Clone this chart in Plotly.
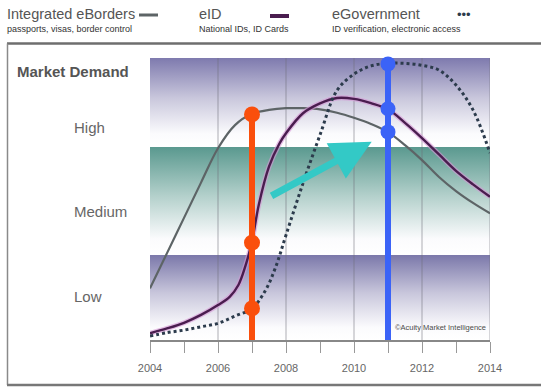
import plotly.graph_objects as go

# ---- data -------------------------------------------------------------
eborders_years = [2004, 2004.5, 2005, 2005.5, 2006, 2006.5, 2007, 2007.5, 2008, 2008.5,
                  2009, 2009.5, 2010, 2010.5, 2011, 2011.5, 2012, 2012.5, 2013, 2013.5, 2014]
eborders = [18.3, 30.8, 43.3, 55.8, 68.0, 76.2, 80.2, 81.6, 82.2, 82.2,
            81.8, 80.6, 78.8, 76.6, 73.7, 69.1, 63.8, 57.8, 52.8, 48.6, 44.9]

eid_years = [2004, 2004.5, 2005, 2005.5, 2006, 2006.35, 2006.6, 2006.8, 2007, 2007.2, 2007.5,
             2007.8, 2008, 2008.5, 2009, 2009.5, 2010, 2010.5, 2011, 2011.5, 2012, 2012.5,
             2013, 2013.5, 2014]
eid = [2.4, 4.1, 6.1, 8.9, 12.4, 15.4, 19.5, 26.0, 35.0, 48.0, 61.5,
       69.5, 73.3, 80.4, 83.9, 85.8, 85.5, 84.0, 81.8, 77.0, 71.6, 65.8,
       60.0, 55.2, 50.8]

egov_years = [2004, 2004.5, 2005, 2005.5, 2006, 2006.5, 2007, 2007.4, 2007.7, 2008,
              2008.5, 2009, 2009.5, 2010, 2010.5, 2011, 2011.5, 2012, 2012.5, 2013, 2013.5, 2014]
egov = [1.4, 2.6, 3.5, 4.7, 5.9, 8.5, 11.2, 17.7, 26.0, 37.2,
        55.6, 72.7, 88.5, 94.3, 97.2, 98.1, 98.1, 97.4, 95.7, 90.4, 81.6, 66.3]

# demand bands (Low / Medium / High) on a 0-100 demand index
band_edges = [0, 30.1, 68.4, 100]
band_labels = ["Low", "Medium", "High"]
band_label_pos = [15.6, 45.4, 75.2]
band_top_colors = ["#7b78aa", "#5a998f", "#7e7aae"]
band_mid_colors = ["#c9c7dc", "#b3d0cb", "#c9c7dc"]

# highlighted years and the demand level of each technology there
marker_2007_year = 2007
marker_2007_values = [80.0, 34.5, 11.2]
marker_2011_year = 2011
marker_2011_values = [97.9, 82.0, 73.8]

# shift of demand between the two highlighted years
arrow_start = (2007.53, 50.8)
arrow_end = (2010.52, 70.3)

tick_years = [2004, 2006, 2008, 2010, 2012, 2014]
grid_years = [2006, 2008, 2010, 2012, 2014]

FONT = "Liberation Sans, Arial, sans-serif"

fig = go.Figure()

# gradient demand bands
for lo, hi, col, mid in zip(band_edges[:-1], band_edges[1:], band_top_colors, band_mid_colors):
    fig.add_trace(go.Scatter(
        x=[2004, 2014, 2014, 2004, 2004], y=[lo, lo, hi, hi, lo],
        mode="none", fill="toself", hoverinfo="skip", showlegend=False,
        fillgradient=dict(type="vertical", start=hi, stop=lo,
                          colorscale=[[0, col], [0.45, mid], [0.85, "#fbfbfd"], [1, "#ffffff"]]),
    ))

# vertical grid lines at even years
gx, gy = [], []
for yr in grid_years:
    gx += [yr, yr, None]
    gy += [0, 100, None]
fig.add_trace(go.Scatter(x=gx, y=gy, mode="lines", hoverinfo="skip", showlegend=False,
                         line=dict(color="rgba(110,110,120,0.55)", width=1)))

# eBorders
fig.add_trace(go.Scatter(x=eborders_years, y=eborders, mode="lines", line_shape="spline",
                         line=dict(color="#5d6466", width=2.2), showlegend=False))
# eID (with a soft pink halo)
fig.add_trace(go.Scatter(x=eid_years, y=eid, mode="lines", line_shape="spline",
                         line=dict(color="rgba(214,150,214,0.6)", width=5), showlegend=False,
                         hoverinfo="skip"))
fig.add_trace(go.Scatter(x=eid_years, y=eid, mode="lines", line_shape="spline",
                         line=dict(color="#4a1d4f", width=2.4), showlegend=False))
# eGovernment
fig.add_trace(go.Scatter(x=egov_years, y=egov, mode="lines", line_shape="spline",
                         line=dict(color="#2c3b4c", width=3, dash="dot"), showlegend=False))

# highlighted years
fig.add_trace(go.Scatter(x=[marker_2007_year, marker_2007_year], y=[-1.2, max(marker_2007_values)],
                         mode="lines", line=dict(color="#fa4f0c", width=6), cliponaxis=False,
                         showlegend=False))
fig.add_trace(go.Scatter(x=[marker_2007_year] * 3, y=marker_2007_values, mode="markers",
                         marker=dict(color="#fa4f0c", size=16), cliponaxis=False, showlegend=False))
fig.add_trace(go.Scatter(x=[marker_2011_year, marker_2011_year], y=[-2.4, max(marker_2011_values)],
                         mode="lines", line=dict(color="#3b63f7", width=6), cliponaxis=False,
                         showlegend=False))
fig.add_trace(go.Scatter(x=[marker_2011_year] * 3, y=marker_2011_values, mode="markers",
                         marker=dict(color="#3b63f7", size=15), cliponaxis=False, showlegend=False))

annotations = [
    dict(x=arrow_end[0], y=arrow_end[1], ax=arrow_start[0], ay=arrow_start[1],
         xref="x", yref="y", axref="x", ayref="y", text="", showarrow=True,
         arrowhead=2, arrowsize=1.15, arrowwidth=7, arrowcolor="#33c9c6", standoff=0),
    dict(x=2013.95, y=4.3, xref="x", yref="y", xanchor="right", yanchor="middle",
         text="©Acuity Market Intelligence", showarrow=False,
         font=dict(family=FONT, size=7.5, color="#4a4a4a")),
    dict(x=(15 - 150) / 340, y=(340 - 72) / 282, xref="paper", yref="paper",
         xanchor="left", yanchor="middle", text="<b>Market Demand</b>", showarrow=False,
         font=dict(family=FONT, size=15, color="#555555")),
]
for lab, pos in zip(band_labels, band_label_pos):
    annotations.append(dict(x=(72 - 150) / 340, y=pos, xref="paper", yref="y",
                            xanchor="left", yanchor="middle", text=lab, showarrow=False,
                            font=dict(family=FONT, size=15, color="#666666")))

# legend header
legend_items = [
    ("Integrated eBorders", "passports, visas, border control", 5),
    ("eID", "National IDs, ID Cards", 197),
    ("eGovernment", "ID verification, electronic access", 330),
]
for title, sub, px in legend_items:
    annotations.append(dict(x=(px - 150) / 340, y=(340 - 14) / 282, xref="paper", yref="paper",
                            xanchor="left", yanchor="middle", text=title, showarrow=False,
                            font=dict(family=FONT, size=14.5, color="#555555")))
    annotations.append(dict(x=(px - 150) / 340, y=(340 - 29) / 282, xref="paper", yref="paper",
                            xanchor="left", yanchor="middle", text=sub, showarrow=False,
                            font=dict(family=FONT, size=9, color="#333333")))
annotations.append(dict(x=(455 - 150) / 340, y=(340 - 15) / 282, xref="paper", yref="paper",
                        xanchor="left", yanchor="middle", text="•••", showarrow=False,
                        font=dict(family=FONT, size=13, color="#2c3b4c")))


def px_x(p):
    return (p - 150) / 340


def px_y(p):
    return (340 - p) / 282


shapes = [
    # legend swatches
    dict(type="line", xref="paper", yref="paper", x0=px_x(139), x1=px_x(158),
         y0=px_y(15), y1=px_y(15), line=dict(color="#5d6466", width=3)),
    dict(type="line", xref="paper", yref="paper", x0=px_x(270), x1=px_x(289),
         y0=px_y(16), y1=px_y(16), line=dict(color="#4a1d4f", width=4)),
    # panel frame
    dict(type="line", xref="paper", yref="paper", x0=px_x(7), x1=px_x(545),
         y0=px_y(43.5), y1=px_y(43.5), line=dict(color="#6e6e6e", width=2.5)),
    dict(type="line", xref="paper", yref="paper", x0=px_x(7.5), x1=px_x(7.5),
         y0=px_y(43.5), y1=px_y(385), line=dict(color="#8a8a8a", width=1.5)),
    dict(type="line", xref="paper", yref="paper", x0=px_x(7), x1=px_x(545),
         y0=px_y(385), y1=px_y(385), line=dict(color="#777777", width=2.5)),
]

fig.update_layout(
    width=541, height=387,
    margin=dict(l=150, r=51, t=58, b=47),
    paper_bgcolor="white", plot_bgcolor="white",
    showlegend=False,
    annotations=annotations,
    shapes=shapes,
    xaxis=dict(range=[2004, 2014], tickvals=tick_years, showgrid=False, zeroline=False,
               showline=True, linecolor="#888888", linewidth=1.5,
               ticks="outside", ticklen=11, tickcolor="#999999", tickwidth=1,
               minor=dict(dtick=1, tick0=2004, ticks="outside", ticklen=11,
                          tickcolor="#999999", showgrid=False),
               ticklabelstandoff=6,
               tickfont=dict(family=FONT, size=11, color="#666666")),
    yaxis=dict(range=[0, 100], showgrid=False, zeroline=False, showticklabels=False,
               showline=False, ticks=""),
)

fig.write_html("out.html")
